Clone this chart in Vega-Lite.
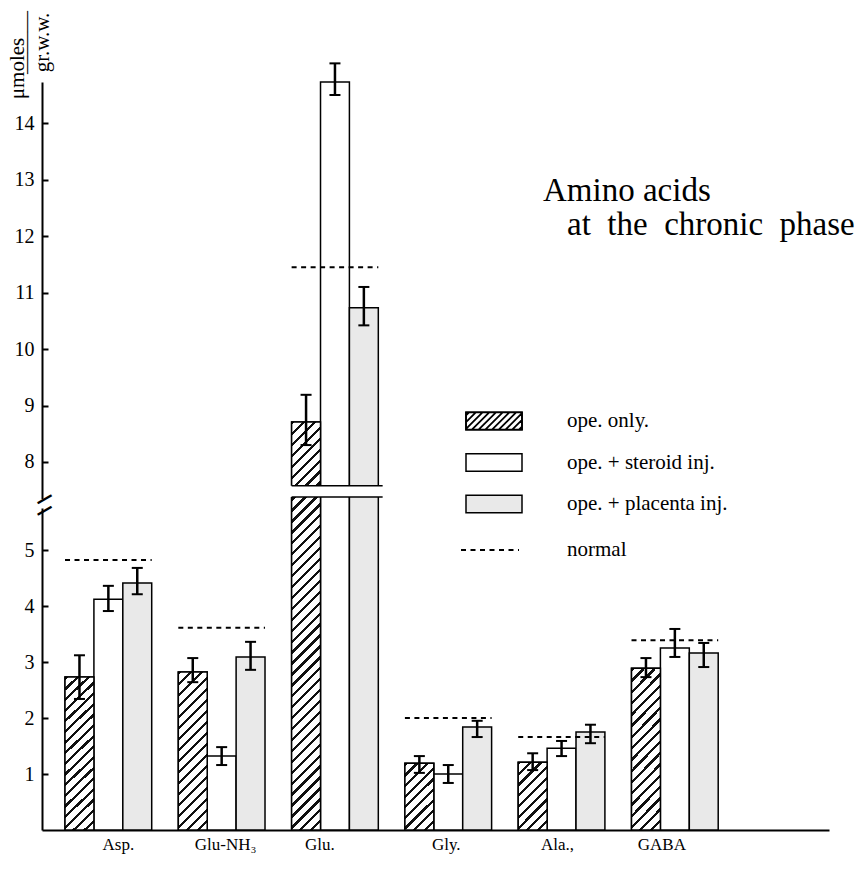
{
  "$schema": "https://vega.github.io/schema/vega-lite/v6.json",
  "width": 787,
  "height": 748,
  "autosize": "none",
  "padding": {"left": 42, "top": 82, "right": 38, "bottom": 40},
  "background": "white",
  "config": {"view": {"stroke": null}, "font": "Liberation Serif"},
  "title": {
    "text": ["Amino acids", "\u2800at\u00a0\u00a0the\u00a0\u00a0chronic\u00a0\u00a0phase"],
    "anchor": "start",
    "frame": "group",
    "orient": "top",
    "offset": 0,
    "dx": 501,
    "dy": 231,
    "baseline": "top",
    "font": "Liberation Serif",
    "fontSize": 33,
    "fontWeight": "normal",
    "color": "black",
    "lineHeight": 34
  },
  "datasets": {
    "bars": [
      {"amino": "Asp.", "group": "ope. only.", "value": 2.73, "lo": 2.34, "hi": 3.12},
      {"amino": "Asp.", "group": "ope. + steroid inj.", "value": 4.12, "lo": 3.91, "hi": 4.36},
      {"amino": "Asp.", "group": "ope. + placenta inj.", "value": 4.41, "lo": 4.21, "hi": 4.68},
      {"amino": "Glu-NH₃", "group": "ope. only.", "value": 2.82, "lo": 2.64, "hi": 3.07},
      {"amino": "Glu-NH₃", "group": "ope. + steroid inj.", "value": 1.32, "lo": 1.16, "hi": 1.48},
      {"amino": "Glu-NH₃", "group": "ope. + placenta inj.", "value": 3.09, "lo": 2.86, "hi": 3.36},
      {"amino": "Glu.", "group": "ope. only.", "value": 8.71, "lo": 8.3, "hi": 9.19},
      {"amino": "Glu.", "group": "ope. + steroid inj.", "value": 14.73, "lo": 14.5, "hi": 15.06},
      {"amino": "Glu.", "group": "ope. + placenta inj.", "value": 10.73, "lo": 10.42, "hi": 11.1},
      {"amino": "Gly.", "group": "ope. only.", "value": 1.19, "lo": 1.02, "hi": 1.32},
      {"amino": "Gly.", "group": "ope. + steroid inj.", "value": 1.0, "lo": 0.84, "hi": 1.16},
      {"amino": "Gly.", "group": "ope. + placenta inj.", "value": 1.84, "lo": 1.66, "hi": 1.95},
      {"amino": "Ala.,", "group": "ope. only.", "value": 1.21, "lo": 1.07, "hi": 1.37},
      {"amino": "Ala.,", "group": "ope. + steroid inj.", "value": 1.46, "lo": 1.32, "hi": 1.59},
      {"amino": "Ala.,", "group": "ope. + placenta inj.", "value": 1.75, "lo": 1.55, "hi": 1.88},
      {"amino": "GABA", "group": "ope. only.", "value": 2.89, "lo": 2.73, "hi": 3.07},
      {"amino": "GABA", "group": "ope. + steroid inj.", "value": 3.25, "lo": 3.09, "hi": 3.59},
      {"amino": "GABA", "group": "ope. + placenta inj.", "value": 3.16, "lo": 2.91, "hi": 3.34}
    ],
    "normals": [
      {"amino": "Asp.", "normal": 4.82, "kind": "normal"},
      {"amino": "Glu-NH₃", "normal": 3.61, "kind": "normal"},
      {"amino": "Glu.", "normal": 11.45, "kind": "normal"},
      {"amino": "Gly.", "normal": 2.0, "kind": "normal"},
      {"amino": "Ala.,", "normal": 1.66, "kind": "normal"},
      {"amino": "GABA", "normal": 3.39, "kind": "normal"}
    ],
    "gluBreak": [{"amino": "Glu.", "lo": 7.38, "hi": 7.58}]
  },
  "layer": [
    {
      "data": {"name": "bars"},
      "mark": {"type": "bar", "stroke": "black", "strokeWidth": 1.5},
      "encoding": {
        "x": {
          "field": "amino", "type": "nominal", "sort": null,
          "scale": {"domain": ["Asp.", "Glu-NH₃", "Glu.", "Gly.", "Ala.,", "GABA"], "paddingInner": 0.2348, "paddingOuter": 0.5905, "align": 0.172},
          "axis": {
            "title": null, "ticks": false, "grid": false, "domainColor": "black", "domainWidth": 2,
            "labelAngle": 0, "labelFont": "Liberation Serif", "labelFontSize": 17, "labelColor": "black", "labelPadding": 6,
            "labelOffset": {"expr": "datum.value == 'Asp.' ? 10 : datum.value == 'Glu-NH₃' ? 4 : datum.value == 'Glu.' ? -15 : datum.value == 'Gly.' ? -2 : datum.value == 'Ala.,' ? -4 : -13"}
          }
        },
        "xOffset": {
          "field": "group", "type": "nominal", "sort": null,
          "scale": {"domain": ["ope. only.", "ope. + steroid inj.", "ope. + placenta inj."], "paddingInner": 0, "paddingOuter": 0}
        },
        "y": {
          "field": "value", "type": "quantitative",
          "scale": {"domain": [0, 5.75, 7.35, 14.73], "range": [748, 426, 416.7, 0], "nice": false, "zero": false},
          "axis": {
            "values": [1, 2, 3, 4, 5, 8, 9, 10, 11, 12, 13, 14],
            "title": "μmoles", "titleAngle": 270, "titleX": -25, "titleY": -14,
            "titleAlign": "center", "titleBaseline": "middle", "titleFont": "Liberation Serif", "titleFontSize": 21,
            "titleFontWeight": "normal", "titleColor": "black",
            "domainColor": "black", "domainWidth": 2, "domainDash": [322, 9.3, 1000],
            "tickColor": "black", "tickWidth": 2, "tickSize": -6, "labelPadding": 14,
            "labelFont": "Liberation Serif", "labelFontSize": 20, "labelColor": "black",
            "grid": false, "labelOverlap": false
          }
        },
        "fill": {
          "field": "group", "type": "nominal",
          "scale": {
            "domain": ["ope. only.", "ope. + steroid inj.", "ope. + placenta inj."],
            "range": ["white", "white", "#e9e9e9"]
          },
          "legend": {
            "orient": "none", "legendX": 437, "legendY": 324, "title": null, "padding": 0,
            "symbolType": "M-2,-0.62H2V0.62H-2Z", "symbolSize": 784,
            "symbolStrokeColor": "black", "symbolStrokeWidth": 1.5, "symbolOpacity": 1,
            "labelFont": "Liberation Serif", "labelFontSize": 21, "labelColor": "black",
            "labelOffset": 58, "rowPadding": 14.5, "labelLimit": 400
          }
        }
      }
    },
    {
      "data": {"name": "bars"},
      "transform": [{"filter": "datum.group == 'ope. only.' && (datum.amino == 'Asp.' || datum.amino == 'Glu-NH₃' || datum.amino == 'GABA')"}],
      "mark": {"type": "bar", "stroke": "black", "strokeWidth": 1.5,
        "fill": {"gradient": "linear", "x1": 0, "y1": 0, "x2": 0.2094, "y2": 1.1447, "stops": [
          {"offset": 0, "color": "#111"}, {"offset": 0.01765, "color": "#111"}, {"offset": 0.01765, "color": "#fff"}, {"offset": 0.05882, "color": "#fff"},
          {"offset": 0.05882, "color": "#111"}, {"offset": 0.07647, "color": "#111"}, {"offset": 0.07647, "color": "#fff"}, {"offset": 0.11765, "color": "#fff"},
          {"offset": 0.11765, "color": "#111"}, {"offset": 0.13529, "color": "#111"}, {"offset": 0.13529, "color": "#fff"}, {"offset": 0.17647, "color": "#fff"},
          {"offset": 0.17647, "color": "#111"}, {"offset": 0.19412, "color": "#111"}, {"offset": 0.19412, "color": "#fff"}, {"offset": 0.23529, "color": "#fff"},
          {"offset": 0.23529, "color": "#111"}, {"offset": 0.25294, "color": "#111"}, {"offset": 0.25294, "color": "#fff"}, {"offset": 0.29412, "color": "#fff"},
          {"offset": 0.29412, "color": "#111"}, {"offset": 0.31176, "color": "#111"}, {"offset": 0.31176, "color": "#fff"}, {"offset": 0.35294, "color": "#fff"},
          {"offset": 0.35294, "color": "#111"}, {"offset": 0.37059, "color": "#111"}, {"offset": 0.37059, "color": "#fff"}, {"offset": 0.41176, "color": "#fff"},
          {"offset": 0.41176, "color": "#111"}, {"offset": 0.42941, "color": "#111"}, {"offset": 0.42941, "color": "#fff"}, {"offset": 0.47059, "color": "#fff"},
          {"offset": 0.47059, "color": "#111"}, {"offset": 0.48824, "color": "#111"}, {"offset": 0.48824, "color": "#fff"}, {"offset": 0.52941, "color": "#fff"},
          {"offset": 0.52941, "color": "#111"}, {"offset": 0.54706, "color": "#111"}, {"offset": 0.54706, "color": "#fff"}, {"offset": 0.58824, "color": "#fff"},
          {"offset": 0.58824, "color": "#111"}, {"offset": 0.60588, "color": "#111"}, {"offset": 0.60588, "color": "#fff"}, {"offset": 0.64706, "color": "#fff"},
          {"offset": 0.64706, "color": "#111"}, {"offset": 0.66471, "color": "#111"}, {"offset": 0.66471, "color": "#fff"}, {"offset": 0.70588, "color": "#fff"},
          {"offset": 0.70588, "color": "#111"}, {"offset": 0.72353, "color": "#111"}, {"offset": 0.72353, "color": "#fff"}, {"offset": 0.76471, "color": "#fff"},
          {"offset": 0.76471, "color": "#111"}, {"offset": 0.78235, "color": "#111"}, {"offset": 0.78235, "color": "#fff"}, {"offset": 0.82353, "color": "#fff"},
          {"offset": 0.82353, "color": "#111"}, {"offset": 0.84118, "color": "#111"}, {"offset": 0.84118, "color": "#fff"}, {"offset": 0.88235, "color": "#fff"},
          {"offset": 0.88235, "color": "#111"}, {"offset": 0.9, "color": "#111"}, {"offset": 0.9, "color": "#fff"}, {"offset": 0.94118, "color": "#fff"},
          {"offset": 0.94118, "color": "#111"}, {"offset": 0.95882, "color": "#111"}, {"offset": 0.95882, "color": "#fff"}, {"offset": 1, "color": "#fff"}
        ]}
      },
      "encoding": {
        "x": {"field": "amino", "type": "nominal"},
        "xOffset": {"field": "group", "type": "nominal"},
        "y": {"field": "value", "type": "quantitative", "axis": null}
      }
    },
    {
      "data": {"name": "bars"},
      "transform": [{"filter": "datum.group == 'ope. only.' && (datum.amino == 'Gly.' || datum.amino == 'Ala.,')"}],
      "mark": {"type": "bar", "stroke": "black", "strokeWidth": 1.5,
        "fill": {"gradient": "linear", "x1": 0, "y1": 0, "x2": 0.519, "y2": 1.207, "stops": [
          {"offset": 0, "color": "#111"}, {"offset": 0.03333, "color": "#111"}, {"offset": 0.03333, "color": "#fff"}, {"offset": 0.11111, "color": "#fff"},
          {"offset": 0.11111, "color": "#111"}, {"offset": 0.14444, "color": "#111"}, {"offset": 0.14444, "color": "#fff"}, {"offset": 0.22222, "color": "#fff"},
          {"offset": 0.22222, "color": "#111"}, {"offset": 0.25556, "color": "#111"}, {"offset": 0.25556, "color": "#fff"}, {"offset": 0.33333, "color": "#fff"},
          {"offset": 0.33333, "color": "#111"}, {"offset": 0.36667, "color": "#111"}, {"offset": 0.36667, "color": "#fff"}, {"offset": 0.44444, "color": "#fff"},
          {"offset": 0.44444, "color": "#111"}, {"offset": 0.47778, "color": "#111"}, {"offset": 0.47778, "color": "#fff"}, {"offset": 0.55556, "color": "#fff"},
          {"offset": 0.55556, "color": "#111"}, {"offset": 0.58889, "color": "#111"}, {"offset": 0.58889, "color": "#fff"}, {"offset": 0.66667, "color": "#fff"},
          {"offset": 0.66667, "color": "#111"}, {"offset": 0.7, "color": "#111"}, {"offset": 0.7, "color": "#fff"}, {"offset": 0.77778, "color": "#fff"},
          {"offset": 0.77778, "color": "#111"}, {"offset": 0.81111, "color": "#111"}, {"offset": 0.81111, "color": "#fff"}, {"offset": 0.88889, "color": "#fff"},
          {"offset": 0.88889, "color": "#111"}, {"offset": 0.92222, "color": "#111"}, {"offset": 0.92222, "color": "#fff"}, {"offset": 1, "color": "#fff"}
        ]}
      },
      "encoding": {
        "x": {"field": "amino", "type": "nominal"},
        "xOffset": {"field": "group", "type": "nominal"},
        "y": {"field": "value", "type": "quantitative", "axis": null}
      }
    },
    {
      "data": {"name": "bars"},
      "transform": [{"filter": "datum.group == 'ope. only.' && datum.amino == 'Glu.'"}],
      "mark": {"type": "bar", "stroke": "black", "strokeWidth": 1.5,
        "fill": {"gradient": "linear", "x1": 0, "y1": 0, "x2": 0.07545, "y2": 1.0655, "stops": [
          {"offset": 0, "color": "#111"}, {"offset": 0.0075, "color": "#111"}, {"offset": 0.0075, "color": "#fff"}, {"offset": 0.025, "color": "#fff"},
          {"offset": 0.025, "color": "#111"}, {"offset": 0.0325, "color": "#111"}, {"offset": 0.0325, "color": "#fff"}, {"offset": 0.05, "color": "#fff"},
          {"offset": 0.05, "color": "#111"}, {"offset": 0.0575, "color": "#111"}, {"offset": 0.0575, "color": "#fff"}, {"offset": 0.075, "color": "#fff"},
          {"offset": 0.075, "color": "#111"}, {"offset": 0.0825, "color": "#111"}, {"offset": 0.0825, "color": "#fff"}, {"offset": 0.1, "color": "#fff"},
          {"offset": 0.1, "color": "#111"}, {"offset": 0.1075, "color": "#111"}, {"offset": 0.1075, "color": "#fff"}, {"offset": 0.125, "color": "#fff"},
          {"offset": 0.125, "color": "#111"}, {"offset": 0.1325, "color": "#111"}, {"offset": 0.1325, "color": "#fff"}, {"offset": 0.15, "color": "#fff"},
          {"offset": 0.15, "color": "#111"}, {"offset": 0.1575, "color": "#111"}, {"offset": 0.1575, "color": "#fff"}, {"offset": 0.175, "color": "#fff"},
          {"offset": 0.175, "color": "#111"}, {"offset": 0.1825, "color": "#111"}, {"offset": 0.1825, "color": "#fff"}, {"offset": 0.2, "color": "#fff"},
          {"offset": 0.2, "color": "#111"}, {"offset": 0.2075, "color": "#111"}, {"offset": 0.2075, "color": "#fff"}, {"offset": 0.225, "color": "#fff"},
          {"offset": 0.225, "color": "#111"}, {"offset": 0.2325, "color": "#111"}, {"offset": 0.2325, "color": "#fff"}, {"offset": 0.25, "color": "#fff"},
          {"offset": 0.25, "color": "#111"}, {"offset": 0.2575, "color": "#111"}, {"offset": 0.2575, "color": "#fff"}, {"offset": 0.275, "color": "#fff"},
          {"offset": 0.275, "color": "#111"}, {"offset": 0.2825, "color": "#111"}, {"offset": 0.2825, "color": "#fff"}, {"offset": 0.3, "color": "#fff"},
          {"offset": 0.3, "color": "#111"}, {"offset": 0.3075, "color": "#111"}, {"offset": 0.3075, "color": "#fff"}, {"offset": 0.325, "color": "#fff"},
          {"offset": 0.325, "color": "#111"}, {"offset": 0.3325, "color": "#111"}, {"offset": 0.3325, "color": "#fff"}, {"offset": 0.35, "color": "#fff"},
          {"offset": 0.35, "color": "#111"}, {"offset": 0.3575, "color": "#111"}, {"offset": 0.3575, "color": "#fff"}, {"offset": 0.375, "color": "#fff"},
          {"offset": 0.375, "color": "#111"}, {"offset": 0.3825, "color": "#111"}, {"offset": 0.3825, "color": "#fff"}, {"offset": 0.4, "color": "#fff"},
          {"offset": 0.4, "color": "#111"}, {"offset": 0.4075, "color": "#111"}, {"offset": 0.4075, "color": "#fff"}, {"offset": 0.425, "color": "#fff"},
          {"offset": 0.425, "color": "#111"}, {"offset": 0.4325, "color": "#111"}, {"offset": 0.4325, "color": "#fff"}, {"offset": 0.45, "color": "#fff"},
          {"offset": 0.45, "color": "#111"}, {"offset": 0.4575, "color": "#111"}, {"offset": 0.4575, "color": "#fff"}, {"offset": 0.475, "color": "#fff"},
          {"offset": 0.475, "color": "#111"}, {"offset": 0.4825, "color": "#111"}, {"offset": 0.4825, "color": "#fff"}, {"offset": 0.5, "color": "#fff"},
          {"offset": 0.5, "color": "#111"}, {"offset": 0.5075, "color": "#111"}, {"offset": 0.5075, "color": "#fff"}, {"offset": 0.525, "color": "#fff"},
          {"offset": 0.525, "color": "#111"}, {"offset": 0.5325, "color": "#111"}, {"offset": 0.5325, "color": "#fff"}, {"offset": 0.55, "color": "#fff"},
          {"offset": 0.55, "color": "#111"}, {"offset": 0.5575, "color": "#111"}, {"offset": 0.5575, "color": "#fff"}, {"offset": 0.575, "color": "#fff"},
          {"offset": 0.575, "color": "#111"}, {"offset": 0.5825, "color": "#111"}, {"offset": 0.5825, "color": "#fff"}, {"offset": 0.6, "color": "#fff"},
          {"offset": 0.6, "color": "#111"}, {"offset": 0.6075, "color": "#111"}, {"offset": 0.6075, "color": "#fff"}, {"offset": 0.625, "color": "#fff"},
          {"offset": 0.625, "color": "#111"}, {"offset": 0.6325, "color": "#111"}, {"offset": 0.6325, "color": "#fff"}, {"offset": 0.65, "color": "#fff"},
          {"offset": 0.65, "color": "#111"}, {"offset": 0.6575, "color": "#111"}, {"offset": 0.6575, "color": "#fff"}, {"offset": 0.675, "color": "#fff"},
          {"offset": 0.675, "color": "#111"}, {"offset": 0.6825, "color": "#111"}, {"offset": 0.6825, "color": "#fff"}, {"offset": 0.7, "color": "#fff"},
          {"offset": 0.7, "color": "#111"}, {"offset": 0.7075, "color": "#111"}, {"offset": 0.7075, "color": "#fff"}, {"offset": 0.725, "color": "#fff"},
          {"offset": 0.725, "color": "#111"}, {"offset": 0.7325, "color": "#111"}, {"offset": 0.7325, "color": "#fff"}, {"offset": 0.75, "color": "#fff"},
          {"offset": 0.75, "color": "#111"}, {"offset": 0.7575, "color": "#111"}, {"offset": 0.7575, "color": "#fff"}, {"offset": 0.775, "color": "#fff"},
          {"offset": 0.775, "color": "#111"}, {"offset": 0.7825, "color": "#111"}, {"offset": 0.7825, "color": "#fff"}, {"offset": 0.8, "color": "#fff"},
          {"offset": 0.8, "color": "#111"}, {"offset": 0.8075, "color": "#111"}, {"offset": 0.8075, "color": "#fff"}, {"offset": 0.825, "color": "#fff"},
          {"offset": 0.825, "color": "#111"}, {"offset": 0.8325, "color": "#111"}, {"offset": 0.8325, "color": "#fff"}, {"offset": 0.85, "color": "#fff"},
          {"offset": 0.85, "color": "#111"}, {"offset": 0.8575, "color": "#111"}, {"offset": 0.8575, "color": "#fff"}, {"offset": 0.875, "color": "#fff"},
          {"offset": 0.875, "color": "#111"}, {"offset": 0.8825, "color": "#111"}, {"offset": 0.8825, "color": "#fff"}, {"offset": 0.9, "color": "#fff"},
          {"offset": 0.9, "color": "#111"}, {"offset": 0.9075, "color": "#111"}, {"offset": 0.9075, "color": "#fff"}, {"offset": 0.925, "color": "#fff"},
          {"offset": 0.925, "color": "#111"}, {"offset": 0.9325, "color": "#111"}, {"offset": 0.9325, "color": "#fff"}, {"offset": 0.95, "color": "#fff"},
          {"offset": 0.95, "color": "#111"}, {"offset": 0.9575, "color": "#111"}, {"offset": 0.9575, "color": "#fff"}, {"offset": 0.975, "color": "#fff"},
          {"offset": 0.975, "color": "#111"}, {"offset": 0.9825, "color": "#111"}, {"offset": 0.9825, "color": "#fff"}, {"offset": 1, "color": "#fff"}
        ]}
      },
      "encoding": {
        "x": {"field": "amino", "type": "nominal"},
        "xOffset": {"field": "group", "type": "nominal"},
        "y": {"field": "value", "type": "quantitative", "axis": null}
      }
    },
    {
      "data": {"name": "gluBreak"},
      "mark": {"type": "bar", "fill": "white", "strokeWidth": 0, "width": {"band": 1.06}},
      "encoding": {
        "x": {"field": "amino", "type": "nominal"},
        "y": {"field": "lo", "type": "quantitative", "axis": null},
        "y2": {"field": "hi"}
      }
    },
    {
      "data": {"name": "gluBreak"},
      "mark": {"type": "rule", "color": "black", "strokeWidth": 1.5},
      "encoding": {
        "x": {"field": "amino", "type": "nominal", "bandPosition": 0},
        "x2": {"field": "amino", "bandPosition": 1.05},
        "y": {"field": "lo", "type": "quantitative", "axis": null}
      }
    },
    {
      "data": {"name": "gluBreak"},
      "mark": {"type": "rule", "color": "black", "strokeWidth": 1.5},
      "encoding": {
        "x": {"field": "amino", "type": "nominal", "bandPosition": 0},
        "x2": {"field": "amino", "bandPosition": 1.05},
        "y": {"field": "hi", "type": "quantitative", "axis": null}
      }
    },
    {
      "data": {"name": "bars"},
      "transform": [{"filter": "datum.group != 'ope. only.'"}],
      "mark": {"type": "rule", "color": "black", "strokeWidth": 2.5},
      "encoding": {
        "x": {"field": "amino", "type": "nominal"},
        "xOffset": {"field": "group", "type": "nominal"},
        "y": {"field": "lo", "type": "quantitative", "axis": null},
        "y2": {"field": "hi"}
      }
    },
    {
      "data": {"name": "bars"},
      "transform": [{"filter": "datum.group == 'ope. only.'"}],
      "mark": {"type": "rule", "strokeWidth": 2.5},
      "encoding": {
        "x": {"field": "amino", "type": "nominal"},
        "xOffset": {"field": "group", "type": "nominal"},
        "y": {"field": "lo", "type": "quantitative", "axis": null},
        "y2": {"field": "hi"},
        "stroke": {
          "field": "group", "type": "nominal",
          "scale": {"domain": ["ope. only."], "range": ["black"]},
          "legend": {
            "orient": "none", "legendX": 437, "legendY": 324, "title": null, "padding": 0,
            "symbolType": "M-2,-0.62H2V0.62H-2Z M-2,-0.4L-1.78,-0.62 M-2,0.08L-1.3,-0.62 M-2,0.56L-0.82,-0.62 M-1.58,0.62L-0.34,-0.62 M-1.1,0.62L0.14,-0.62 M-0.62,0.62L0.62,-0.62 M-0.14,0.62L1.1,-0.62 M0.34,0.62L1.58,-0.62 M0.82,0.62L2,-0.56 M1.3,0.62L2,-0.08 M1.78,0.62L2,0.4",
            "symbolSize": 784, "symbolStrokeColor": "black", "symbolStrokeWidth": 1.8,
            "symbolFillColor": "transparent", "symbolOpacity": 1,
            "labelExpr": "''", "labelFontSize": 21, "labelOffset": 58
          }
        }
      }
    },
    {
      "data": {"name": "bars"},
      "mark": {"type": "tick", "color": "black", "thickness": 2, "size": 11, "opacity": 1},
      "encoding": {
        "x": {"field": "amino", "type": "nominal"},
        "xOffset": {"field": "group", "type": "nominal"},
        "y": {"field": "hi", "type": "quantitative", "axis": null}
      }
    },
    {
      "data": {"name": "bars"},
      "mark": {"type": "tick", "color": "black", "thickness": 2, "size": 11, "opacity": 1},
      "encoding": {
        "x": {"field": "amino", "type": "nominal"},
        "xOffset": {"field": "group", "type": "nominal"},
        "y": {"field": "lo", "type": "quantitative", "axis": null}
      }
    },
    {
      "data": {"name": "normals"},
      "mark": {"type": "rule", "color": "black", "strokeWidth": 2},
      "encoding": {
        "x": {"field": "amino", "type": "nominal", "bandPosition": 0},
        "x2": {"field": "amino", "bandPosition": 1},
        "y": {
          "field": "normal", "type": "quantitative",
          "axis": {
            "orient": "left", "values": [5.71, 7.35], "labelExpr": "'—'",
            "domain": false, "ticks": false, "grid": false,
            "title": ["———", "gr.w.w."], "titleAngle": 270, "titleX": -16, "titleY": -40,
            "titleAlign": "center", "titleBaseline": "middle", "titleFont": "Liberation Serif", "titleFontSize": 21,
            "titleFontWeight": "normal", "titleColor": "black", "titleLineHeight": 16,
            "labelAngle": -30, "labelAlign": "center", "labelBaseline": "middle", "labelPadding": -2,
            "labelFont": "DejaVu Sans", "labelFontSize": 18, "labelFontWeight": "bold", "labelColor": "black",
            "labelOverlap": false, "labelBound": false, "labelFlush": false
          }
        },
        "strokeDash": {
          "field": "kind", "type": "nominal",
          "scale": {"domain": ["normal"], "range": [[5, 4.5]]},
          "legend": {
            "orient": "none", "legendX": 418, "legendY": 438, "title": null, "padding": 0,
            "symbolType": "stroke", "symbolSize": 3364, "symbolStrokeColor": "black", "symbolStrokeWidth": 2,
            "labelFont": "Liberation Serif", "labelFontSize": 21, "labelColor": "black", "labelOffset": 47
          }
        }
      }
    }
  ],
  "resolve": {"axis": {"y": "independent"}}
}
